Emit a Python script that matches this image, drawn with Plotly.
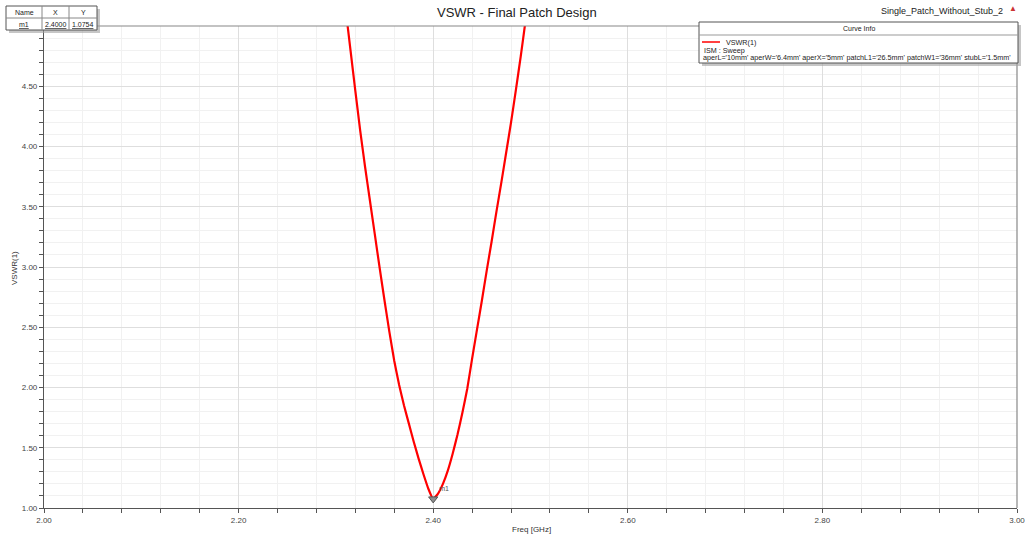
import plotly.graph_objects as go

# Swept response of the single patch (VSWR vs frequency)
freq_ghz = [2.300, 2.305, 2.310, 2.315, 2.320, 2.325, 2.330, 2.335, 2.340, 2.345,
            2.350, 2.355, 2.360, 2.365, 2.370, 2.375, 2.380, 2.385, 2.390, 2.395,
            2.400, 2.405, 2.410, 2.415, 2.420, 2.425, 2.430, 2.435, 2.440, 2.445,
            2.450, 2.455, 2.460, 2.465, 2.470, 2.475, 2.480, 2.485, 2.490, 2.495,
            2.500]
vswr = [5.82, 5.48, 5.14, 4.80, 4.46, 4.13, 3.83, 3.55, 3.27, 2.99,
        2.72, 2.46, 2.22, 2.02, 1.85, 1.70, 1.55, 1.41, 1.28, 1.16,
        1.0754, 1.12, 1.20, 1.31, 1.45, 1.61, 1.79, 1.99, 2.24, 2.48,
        2.72, 2.97, 3.21, 3.46, 3.70, 3.95, 4.20, 4.47, 4.75, 5.05,
        5.35]

marker_name = "m1"
marker_x = 2.4000
marker_y = 1.0754

x_ticks = [2.0, 2.2, 2.4, 2.6, 2.8, 3.0]
y_ticks = [1.0, 1.5, 2.0, 2.5, 3.0, 3.5, 4.0, 4.5]

W, H = 1025, 538
ML, MR, MT, MB = 44, 8, 26, 30
PW, PH = W - ML - MR, H - MT - MB


def px(x):
    return (x - ML) / PW


def py(y):
    return (H - MB - y) / PH


FONT = "Liberation Sans, Arial, sans-serif"

fig = go.Figure()
fig.add_trace(go.Scatter(
    x=freq_ghz, y=vswr, mode="lines",
    line=dict(color="#ff0000", width=2.2, shape="spline", smoothing=0.3),
    name="VSWR(1)", showlegend=False, hoverinfo="x+y"))

fig.add_trace(go.Scatter(
    x=[marker_x], y=[marker_y], mode="markers+text",
    marker=dict(symbol="triangle-down", size=8, color="#8c8c8c",
                line=dict(color="#555555", width=1)),
    text=[marker_name], textposition="top right",
    textfont=dict(size=7, color="#555555", family=FONT),
    showlegend=False, hoverinfo="skip"))

axis_common = dict(
    showline=True, linecolor="#555555", linewidth=1.2, mirror=False,
    ticks="outside", ticklen=4, tickcolor="#555555",
    showgrid=True, gridcolor="#dedede", gridwidth=1,
    zeroline=False, ticklabeloverflow="allow", automargin=False,
    tickfont=dict(size=8, color="#444444", family=FONT),
)

fig.update_layout(
    width=W, height=H,
    margin=dict(l=ML, r=MR, t=MT, b=MB),
    paper_bgcolor="white", plot_bgcolor="white",
    font=dict(family=FONT),
    xaxis=dict(
        range=[2.0, 3.0], tickvals=x_ticks,
        ticktext=[f"{v:.2f}" for v in x_ticks],
        minor=dict(dtick=0.04, tick0=2.0, ticks="outside", ticklen=4,
                   tickcolor="#555555", showgrid=True, gridcolor="#f1f1f1"),
        **axis_common),
    yaxis=dict(
        range=[1.0, 5.0], tickvals=y_ticks,
        ticktext=[f"{v:.2f}" for v in y_ticks],
        minor=dict(dtick=0.1, tick0=1.0, ticks="outside", ticklen=4,
                   tickcolor="#555555", showgrid=True, gridcolor="#f1f1f1"),
        **axis_common),
)

shapes = []
annotations = []


def label(text, x, y, size=7, color="#222222", xanchor="center", angle=0):
    annotations.append(dict(text=text, xref="paper", yref="paper",
                            x=px(x), y=py(y), xanchor=xanchor, yanchor="middle",
                            showarrow=False, textangle=angle,
                            font=dict(size=size, color=color, family=FONT)))


def rect(x0, y0, x1, y1, fill, line_color=None, opacity=1.0):
    shapes.append(dict(type="rect", xref="paper", yref="paper",
                       x0=px(x0), x1=px(x1), y0=py(y1), y1=py(y0),
                       fillcolor=fill, opacity=opacity,
                       line=dict(color=line_color, width=1) if line_color else dict(width=0)))


def hline(x0, x1, y, color, width=1):
    shapes.append(dict(type="line", xref="paper", yref="paper",
                       x0=px(x0), x1=px(x1), y0=py(y), y1=py(y),
                       line=dict(color=color, width=width)))


def vline(x, y0, y1, color, width=1):
    shapes.append(dict(type="line", xref="paper", yref="paper",
                       x0=px(x), x1=px(x), y0=py(y0), y1=py(y1),
                       line=dict(color=color, width=width)))


# frame of the plot area (top and right edges)
hline(ML, W - MR, MT, "#888888", 1.2)
vline(W - MR, MT, H - MB, "#888888", 1.2)

# axis titles
label("Freq [GHz]", 531, 529, size=8, color="#333333")
label("VSWR(1)", 14, 268, size=8, color="#333333", angle=-90)

# title and design name
label("VSWR - Final Patch Design", 517, 12, size=13)
label("Single_Patch_Without_Stub_2", 1005, 11, size=9, xanchor="right")
label("\u25b2", 1013, 9, size=8, color="#cc3333")

# marker readout table
tx0, tx1, ty0, ty1 = 6, 97, 6, 30
rect(tx0 + 3, ty0 + 3, tx1 + 3, ty1 + 3, "#a0a0a0", opacity=0.6)
rect(tx0, ty0, tx1, ty1, "white", "#555555")
hline(tx0, tx1, 18, "#888888")
for cx in (42, 69):
    vline(cx, ty0, ty1, "#888888")
table_rows = [("Name", "X", "Y"),
              (f"<u>{marker_name}</u>", f"<u>{marker_x:.4f}</u>", f"<u>{marker_y:.4f}</u>")]
col_centers = [24, 55.5, 83]
for row, yc in zip(table_rows, (12.5, 24.5)):
    for txt, cx in zip(row, col_centers):
        label(txt, cx, yc, size=7)

# curve info box
lx0, lx1, ly0, ly1 = 699, 1018, 22, 63
rect(lx0 + 3, ly0 + 3, lx1 + 3, ly1 + 3, "#a0a0a0", opacity=0.6)
rect(lx0, ly0, lx1, ly1, "white", "#555555")
hline(lx0, lx1, 35, "#999999")
hline(702, 720, 42, "#ff0000", 1.5)
label("Curve Info", (lx0 + lx1) / 2, 28.5, size=7)
label("VSWR(1)", 724, 42, size=7.2, xanchor="left")
label("ISM : Sweep", 702, 50, size=7.2, xanchor="left")
label("aperL='10mm' aperW='6.4mm' aperX='5mm' patchL1='26.5mm' "
      "patchW1='36mm' stubL='1.5mm'", 701, 58, size=7.2, xanchor="left")

fig.update_layout(shapes=shapes, annotations=annotations)

fig.write_html("out.html")
